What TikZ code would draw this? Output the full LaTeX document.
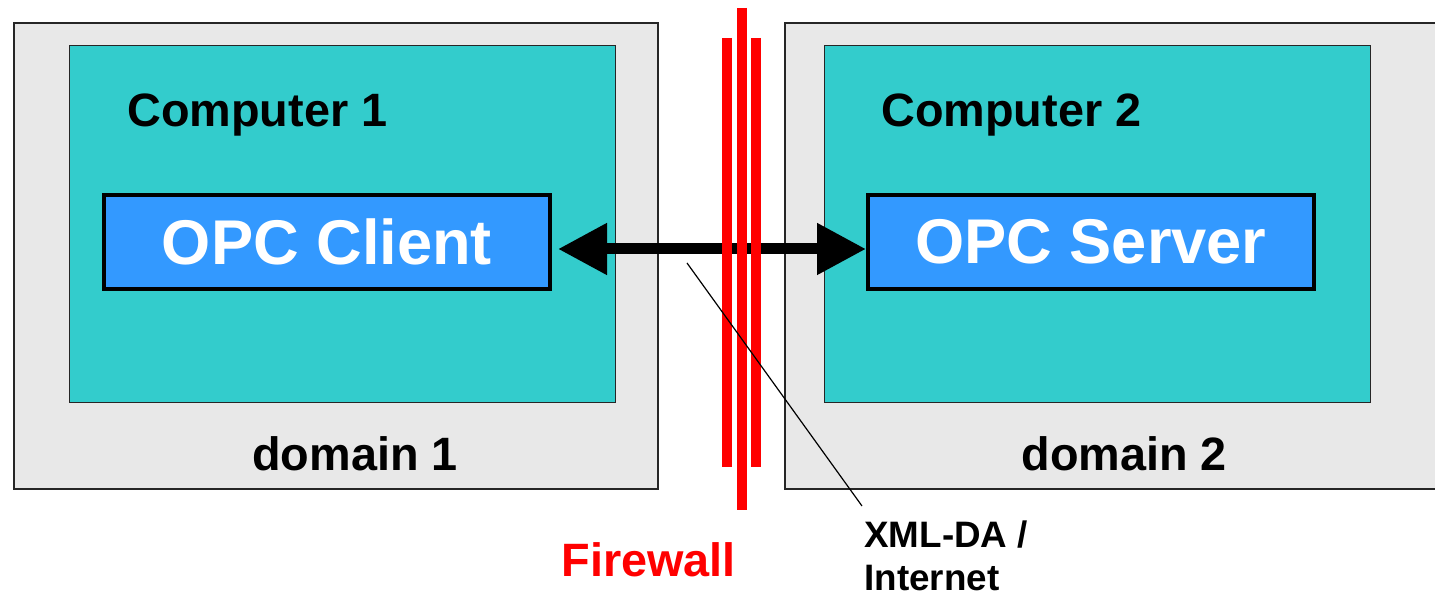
\documentclass[tikz,border=0pt]{standalone}
\usepackage{fontspec}
\setmainfont{Liberation Sans}
\usetikzlibrary{arrows.meta,positioning}
\definecolor{domaingray}{HTML}{E8E8E8}
\definecolor{pcteal}{HTML}{33CCCC}
\definecolor{opcblue}{HTML}{3399FF}
\definecolor{wallred}{HTML}{FF0000}

\begin{document}
\begin{tikzpicture}[x=0.5pt, y=-0.5pt,
    domain/.style={rectangle, draw=black!85, line width=0.8pt, fill=domaingray, anchor=north west, inner sep=0, minimum width=#1, minimum height=233pt},
    computer/.style={rectangle, draw=black!85, line width=0.7pt, fill=pcteal, anchor=north west, inner sep=0, minimum width=273pt, minimum height=178.5pt},
    opc/.style={rectangle, draw=black, line width=2pt, fill=opcblue, anchor=north west, inner sep=0, minimum width=223pt, minimum height=47pt, text=white, font=\fontsize{31.6pt}{36pt}\bfseries},
    title/.style={anchor=base west, inner sep=0, font=\fontsize{23.4pt}{28pt}\bfseries},
    wall/.style={draw=wallred, line width=5pt},
    bothway/.style={{Triangle[length=24.5pt,width=24.5pt]}-{Triangle[length=24.5pt,width=24.5pt]}, line width=5.5pt}]

    \clip (0,0) rectangle (1435,597);

    \node[domain=322pt] (D1) at (13,22) {};
    \node[domain=330pt] (D2) at (784,22) {};
    \node[computer] (C1) at (69,45) {};
    \node[computer] (C2) at (824,45) {};

    \node[title] (C1title) at (127,127) {Computer 1};
    \node[title] (C2title) at (881,127) {Computer 2};
    \node[title] (D1title) at (252,471) {domain 1};
    \node[title] (D2title) at (1021,471) {domain 2};

    \node[opc] (client) at (102,193) {OPC Client};
    \node[opc] (server) at (866,193) {OPC Server};

    \draw[bothway, shorten <=3pt] ([yshift=-3.5pt]client.east) -- ([yshift=-3.5pt]server.west);

    \foreach \x/\top/\bot in {727/38/467, 742/8/510, 756/38/467}{
        \draw[wall] (\x,\top) -- (\x,\bot);
    }

    \node[title, text=wallred] (fwlabel) at (561,577) {Firewall};
    \node[anchor=north west, inner xsep=1pt, inner ysep=7pt, align=left, font=\fontsize{18.4pt}{21.5pt}\bfseries] (xml) at (862,506) {XML-DA /\\Internet};

    \coordinate (lead) at (687,263);
    \draw[line width=0.6pt] (lead) -- (xml.north west);

\end{tikzpicture}
\end{document}
